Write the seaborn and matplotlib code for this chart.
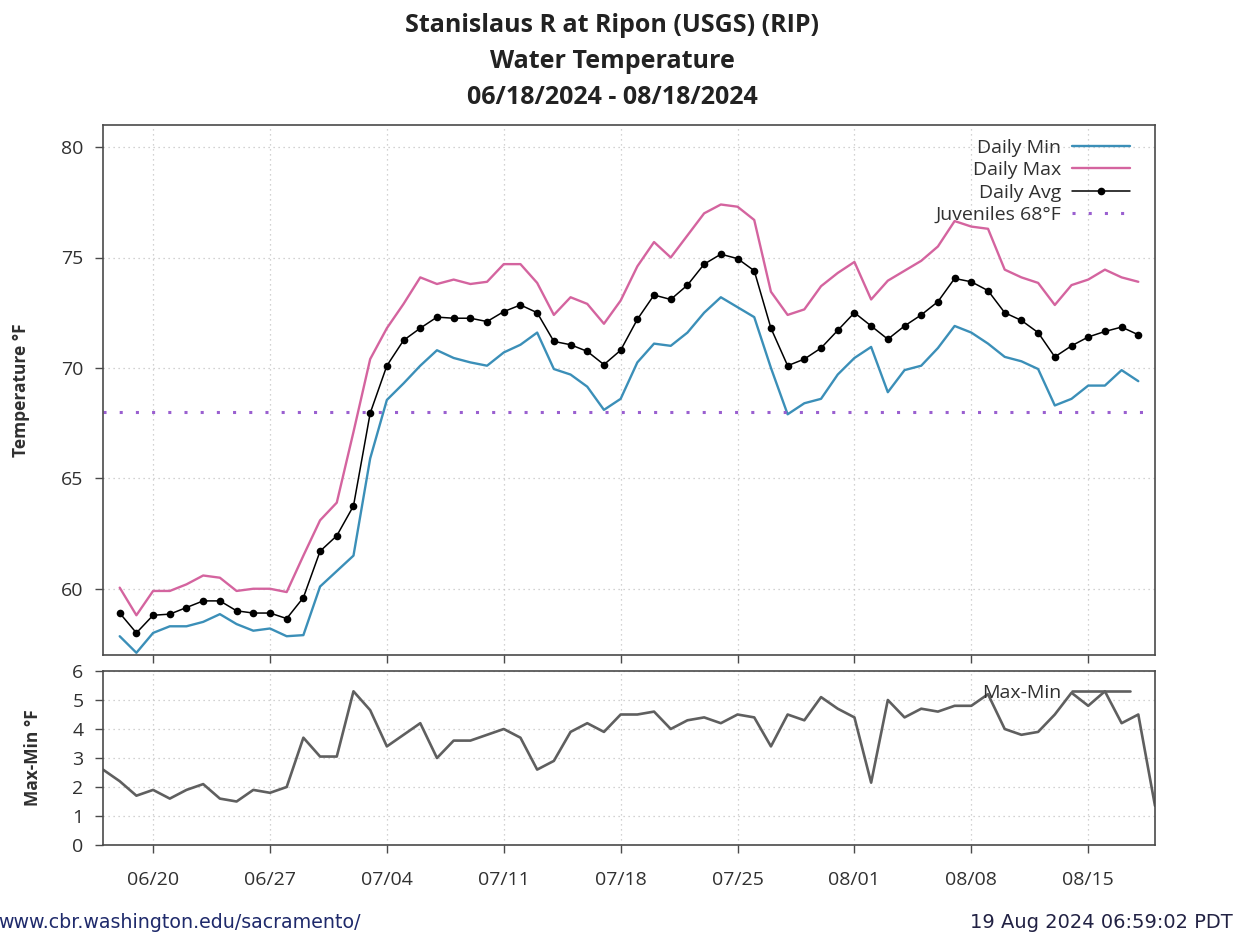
import matplotlib
matplotlib.use("Agg")
import matplotlib.pyplot as plt
import numpy as np
import pandas as pd
import seaborn as sns

# Daily water temperature (deg F), 06/18/2024 - 08/18/2024
dates = pd.date_range("2024-06-18", "2024-08-18", freq="D")
temp_min = [
    57.85, 57.1, 58.0, 58.3, 58.3, 58.5, 58.85, 58.4, 58.1, 58.2, 57.85, 57.9, 60.1,
    60.8, 61.5, 65.9, 68.55, 69.3, 70.1, 70.8, 70.45, 70.25, 70.1, 70.7, 71.05, 71.6,
    69.95, 69.7, 69.15, 68.1, 68.6, 70.25, 71.1, 71.0, 71.6, 72.5, 73.2, 72.75, 72.3,
    70.0, 67.9, 68.4, 68.6, 69.7,
    70.45, 70.95, 68.9, 69.9, 70.1, 70.9, 71.9, 71.6, 71.1, 70.5, 70.3, 69.95, 68.3,
    68.6, 69.2, 69.2, 69.9, 69.4,
]
temp_max = [
    60.05, 58.8, 59.9, 59.9, 60.2, 60.6, 60.5, 59.9, 60.0, 60.0, 59.85, 61.5, 63.1,
    63.9, 67.1, 70.4, 71.8, 72.9, 74.1, 73.8, 74.0, 73.8, 73.9, 74.7, 74.7, 73.85,
    72.4, 73.2, 72.9, 72.0, 73.05, 74.6, 75.7, 75.0, 76.0, 77.0, 77.4, 77.3, 76.7,
    73.45, 72.4, 72.65, 73.7, 74.3,
    74.8, 73.1, 73.95, 74.4, 74.85, 75.5, 76.65, 76.4, 76.3, 74.45, 74.1, 73.85, 72.85,
    73.75, 74.0, 74.45, 74.1, 73.9,
]
temp_avg = [
    58.9, 58.0, 58.8, 58.85, 59.15, 59.45, 59.45, 59.0, 58.9, 58.9, 58.65, 59.6, 61.7,
    62.4, 63.75, 67.95, 70.1, 71.25, 71.8, 72.3, 72.25, 72.25, 72.1, 72.55, 72.85, 72.5,
    71.2, 71.05, 70.75, 70.15, 70.8, 72.2, 73.3, 73.1, 73.75, 74.7, 75.15, 74.95, 74.4,
    71.8, 70.1, 70.4, 70.9, 71.7,
    72.5, 71.9, 71.3, 71.9, 72.4, 73.0, 74.05, 73.9, 73.5, 72.5, 72.15, 71.6, 70.5,
    71.0, 71.4, 71.65, 71.85, 71.5,
]

# Daily range (max - min), 06/17/2024 - 08/19/2024
range_dates = pd.date_range("2024-06-17", "2024-08-19", freq="D")
temp_range = [
    2.6, 2.2, 1.7, 1.9, 1.6, 1.9, 2.1, 1.6, 1.5, 1.9, 1.8, 2.0, 3.7, 3.05,
    3.05, 5.3, 4.65, 3.4, 3.8, 4.2, 3.0, 3.6, 3.6, 3.8, 4.0, 3.7, 2.6, 2.9, 3.9, 4.2,
    3.9, 4.5, 4.5, 4.6, 4.0, 4.3, 4.4, 4.2, 4.5, 4.4, 3.4, 4.5, 4.3, 5.1, 4.7,
    4.4, 2.15, 5.0, 4.4, 4.7, 4.6, 4.8, 4.8, 5.2, 4.0, 3.8, 3.9, 4.5, 5.25, 4.8, 5.3,
    4.2, 4.5, 1.35,
]

juvenile_limit = 68
tick_dates = pd.to_datetime([
    "2024-06-20", "2024-06-27", "2024-07-04", "2024-07-11", "2024-07-18",
    "2024-07-25", "2024-08-01", "2024-08-08", "2024-08-15",
])
tick_labels = ["06/20", "06/27", "07/04", "07/11", "07/18", "07/25", "08/01", "08/08", "08/15"]
temp_ticks = [60, 65, 70, 75, 80]
range_ticks = [0, 1, 2, 3, 4, 5, 6]

title_lines = [
    "Stanislaus R at Ripon (USGS) (RIP)",
    "Water Temperature",
    "06/18/2024 - 08/18/2024",
]

MIN_COLOR = "#3b8fb8"
MAX_COLOR = "#d4649f"
AVG_COLOR = "#000000"
JUV_COLOR = "#9a5fd0"
RANGE_COLOR = "#5f5f5f"
SPINE_COLOR = "#4a4a4a"
TEXT_COLOR = "#303030"
GRID_COLOR = "#c4c4c4"

sns.set_theme(style="white")
plt.rcParams["font.family"] = ["Open Sans", "DejaVu Sans"]

W, H = 1236, 935
fig = plt.figure(figsize=(W / 100, H / 100), dpi=100)
fig.patch.set_facecolor("white")

left, right = 103, 1155
ax_t = fig.add_axes([left / W, 1 - 655 / H, (right - left) / W, (655 - 125) / H])
ax_b = fig.add_axes([left / W, 1 - 845 / H, (right - left) / W, (845 - 671) / H], sharex=ax_t)

temps = pd.DataFrame({"date": dates, "min": temp_min, "max": temp_max, "avg": temp_avg})
ranges = pd.DataFrame({"date": range_dates, "range": temp_range})

sns.lineplot(data=temps, x="date", y="min", ax=ax_t, color=MIN_COLOR, lw=1.7,
             label="Daily Min")
sns.lineplot(data=temps, x="date", y="max", ax=ax_t, color=MAX_COLOR, lw=1.7,
             label="Daily Max")
sns.lineplot(data=temps, x="date", y="avg", ax=ax_t, color=AVG_COLOR, lw=1.1,
             marker="o", markersize=5.5, markeredgewidth=0, label="Daily Avg")
ax_t.axhline(juvenile_limit, color=JUV_COLOR, lw=2.2, ls=(0, (1, 4.3)),
             label="Juveniles 68°F")

sns.lineplot(data=ranges, x="date", y="range", ax=ax_b, color=RANGE_COLOR, lw=1.9,
             label="Max-Min")

for ax in (ax_t, ax_b):
    ax.set_xlim(pd.Timestamp("2024-06-17"), pd.Timestamp("2024-08-19"))
    ax.set_xticks(tick_dates)
    ax.grid(True, color=GRID_COLOR, ls=(0, (1, 3)), lw=0.9)
    for s in ax.spines.values():
        s.set_color(SPINE_COLOR)
        s.set_linewidth(1.2)
    ax.tick_params(axis="both", which="major", direction="out", length=6, width=1.0,
                   color=SPINE_COLOR, labelsize=14, labelcolor=TEXT_COLOR, pad=8,
                   left=True, bottom=True, top=False, right=False)
    ax.set_xlabel("")

ax_t.set_ylim(57, 81)
ax_t.set_yticks(temp_ticks)
ax_t.set_yticklabels([str(t) for t in temp_ticks])
ax_t.tick_params(axis="x", labelbottom=False)

ax_b.set_ylim(0, 6)
ax_b.set_yticks(range_ticks)
ax_b.set_yticklabels([str(t) for t in range_ticks])
ax_b.set_xticklabels(tick_labels)
ax_b.tick_params(axis="x", pad=13)

ax_t.set_ylabel("Temperature °F", fontsize=12.5, fontweight="bold", color=TEXT_COLOR)
ax_t.yaxis.set_label_coords((30 - left) / (right - left), 0.5)
ax_b.set_ylabel("Max-Min °F", fontsize=12.5, fontweight="bold", color=TEXT_COLOR)
ax_b.yaxis.set_label_coords((42 - left) / (right - left), 0.5)

leg_kw = dict(loc="upper right", markerfirst=False, frameon=False, fontsize=14,
              handlelength=3.0, handletextpad=0.55, labelspacing=0.22,
              borderpad=0, borderaxespad=0)
leg_t = ax_t.legend(bbox_to_anchor=(1 - 25 / (right - left), 1 - 14 / 530), **leg_kw)
leg_b = ax_b.legend(bbox_to_anchor=(1 - 25 / (right - left), 1 - 13 / 174), **leg_kw)
for leg in (leg_t, leg_b):
    for t in leg.get_texts():
        t.set_color(TEXT_COLOR)

for y, line in zip([25, 61, 97], title_lines):
    fig.text(612 / W, 1 - y / H, line, ha="center", va="center",
             fontsize=18, fontweight="bold", color="#222222")

fig.text(-2 / W, 1 - 922 / H, "www.cbr.washington.edu/sacramento/", ha="left",
         va="center", fontsize=13.7, color="#1f2a6b", family=["DejaVu Sans"])
fig.text(1233 / W, 1 - 922 / H, "19 Aug 2024 06:59:02 PDT", ha="right", va="center",
         fontsize=14, color="#222244", family=["DejaVu Sans"])

fig.savefig("out.png", dpi=100, facecolor="white")
